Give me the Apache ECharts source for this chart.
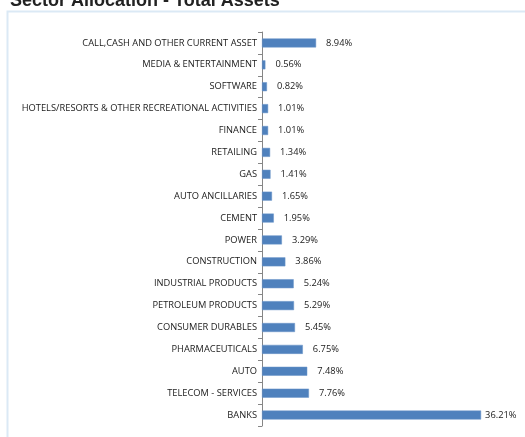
<!DOCTYPE html>
<html>
<head>
<meta charset="utf-8">
<script src="https://cdn.jsdelivr.net/npm/echarts@6/dist/echarts.min.js"></script>
<style>
  html, body { margin: 0; padding: 0; background: #fff; }
  #chart { width: 525px; height: 437px; }
</style>
</head>
<body>
<div id="chart"></div>
<script>
// sectors, top to bottom as in the picture
const sectors = [
    "CALL,CASH AND OTHER CURRENT ASSET",
    "MEDIA & ENTERTAINMENT",
    "SOFTWARE",
    "HOTELS/RESORTS & OTHER RECREATIONAL ACTIVITIES",
    "FINANCE",
    "RETAILING",
    "GAS",
    "AUTO ANCILLARIES",
    "CEMENT",
    "POWER",
    "CONSTRUCTION",
    "INDUSTRIAL PRODUCTS",
    "PETROLEUM PRODUCTS",
    "CONSUMER DURABLES",
    "PHARMACEUTICALS",
    "AUTO",
    "TELECOM - SERVICES",
    "BANKS"
];
const weights = [8.94, 0.56, 0.82, 1.01, 1.01, 1.34, 1.41, 1.65, 1.95, 3.29, 3.86, 5.24, 5.29, 5.45, 6.75, 7.48, 7.76, 36.21];

const labelFont = "Open Sans";
const chart = echarts.init(document.getElementById("chart"));

const barData = weights.map((v, i) => {
    let item = { value: v };
    // the big bar's label sits closer to the bar end
    if (i == weights.length - 1) item.label = { distance: 4 };
    return item;
});

const option = {
    animation: false,
    title: {
        text: "Sector Allocation - Total Assets",
        left: 5,
        top: -13,
        textStyle: {
            fontFamily: "Liberation Sans",
            fontWeight: "bold",
            fontSize: 18,
            color: "#222"
        }
    },
    graphic: [
        {
            type: "rect",
            shape: { x: 7.5, y: 11.5, width: 530, height: 440 },
            style: { fill: "none", stroke: "#dbe9f5", lineWidth: 2 },
            silent: true
        }
    ],
    grid: {
        left: 262,
        top: 32,
        width: 242,
        height: 394
    },
    xAxis: {
        type: "value",
        min: 0,
        max: 40,
        show: false
    },
    yAxis: {
        type: "category",
        inverse: true,
        data: sectors,
        axisLine: { lineStyle: { color: "#868686", width: 1 } },
        axisTick: { show: true, length: 4, lineStyle: { color: "#868686" } },
        axisLabel: {
            fontFamily: labelFont,
            fontSize: 9.3,
            color: "#1a1a1a",
            margin: 5
        }
    },
    series: [
        {
            type: "bar",
            data: barData,
            barWidth: 9,
            itemStyle: { color: "#4f81bd", borderColor: "#6a95c8", borderWidth: 0.5 },
            label: {
                show: true,
                position: "right",
                distance: 10,
                fontFamily: labelFont,
                fontSize: 9.3,
                color: "#1a1a1a",
                formatter: p => p.value.toFixed(2) + "%"
            }
        }
    ]
};
chart.setOption(option);
</script>
</body>
</html>
